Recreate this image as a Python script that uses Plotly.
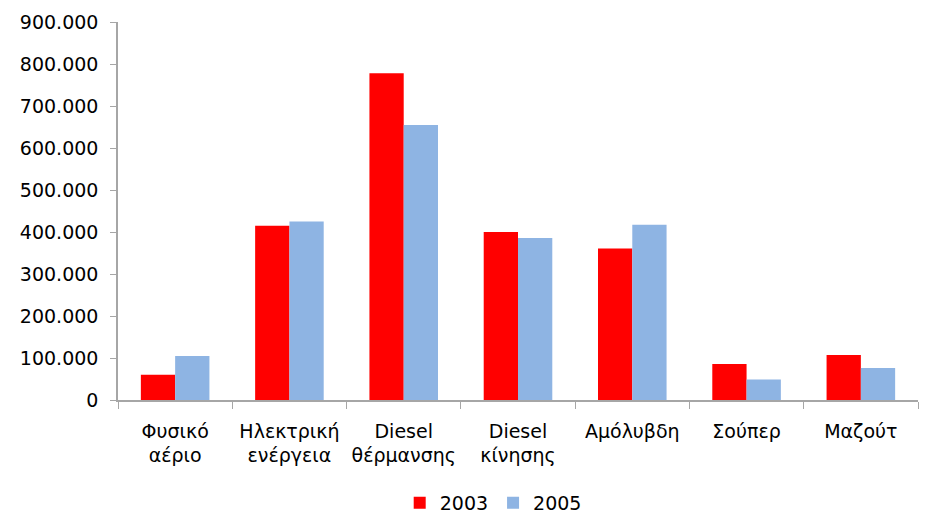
import plotly.graph_objects as go

categories = ["Φυσικό<br>αέριο", "Ηλεκτρική<br>ενέργεια", "Diesel<br>θέρμανσης",
              "Diesel<br>κίνησης", "Αμόλυβδη", "Σούπερ", "Μαζούτ"]
values_2003 = [60000, 415000, 778000, 400000, 361000, 86000, 107000]
values_2005 = [105000, 425000, 655000, 386000, 417000, 49000, 76000]
y_ticks = [0, 100000, 200000, 300000, 400000, 500000, 600000, 700000, 800000, 900000]

fig = go.Figure()
fig.add_trace(go.Bar(name="2003", x=categories, y=values_2003,
                     marker=dict(color="#FF0000", line=dict(width=0))))
fig.add_trace(go.Bar(name="2005", x=categories, y=values_2005,
                     marker=dict(color="#8EB4E3", line=dict(width=0))))

fig.update_layout(
    width=928, height=514,
    margin=dict(l=110, r=18, t=14, b=122, autoexpand=False),
    plot_bgcolor="white", paper_bgcolor="white",
    barmode="group", bargap=0.4, bargroupgap=0,
    separators=",.",
    font=dict(family="DejaVu Sans, Liberation Sans, Arial, sans-serif", size=19, color="#000000"),
    showlegend=True,
    legend=dict(orientation="h", x=0.469, xanchor="center", y=-0.272, yanchor="middle",
                font=dict(size=19), itemwidth=30, traceorder="normal",
                borderwidth=0, bgcolor="rgba(0,0,0,0)"),
)
fig.update_xaxes(
    showline=True, linecolor="#A6A6A6", linewidth=1.5,
    ticks="outside", tickson="boundaries", ticklen=7, tickcolor="#A6A6A6",
    showgrid=False, ticklabelstandoff=13, tickangle=0, automargin=False,
)
fig.update_yaxes(
    range=[0, 900000], tickvals=y_ticks, tickformat=",d",
    showline=True, linecolor="#A6A6A6", linewidth=1.5,
    ticks="outside", ticklen=6, tickcolor="#A6A6A6",
    showgrid=False, zeroline=False, ticklabelstandoff=8, automargin=False,
)

fig.write_html("out.html")
